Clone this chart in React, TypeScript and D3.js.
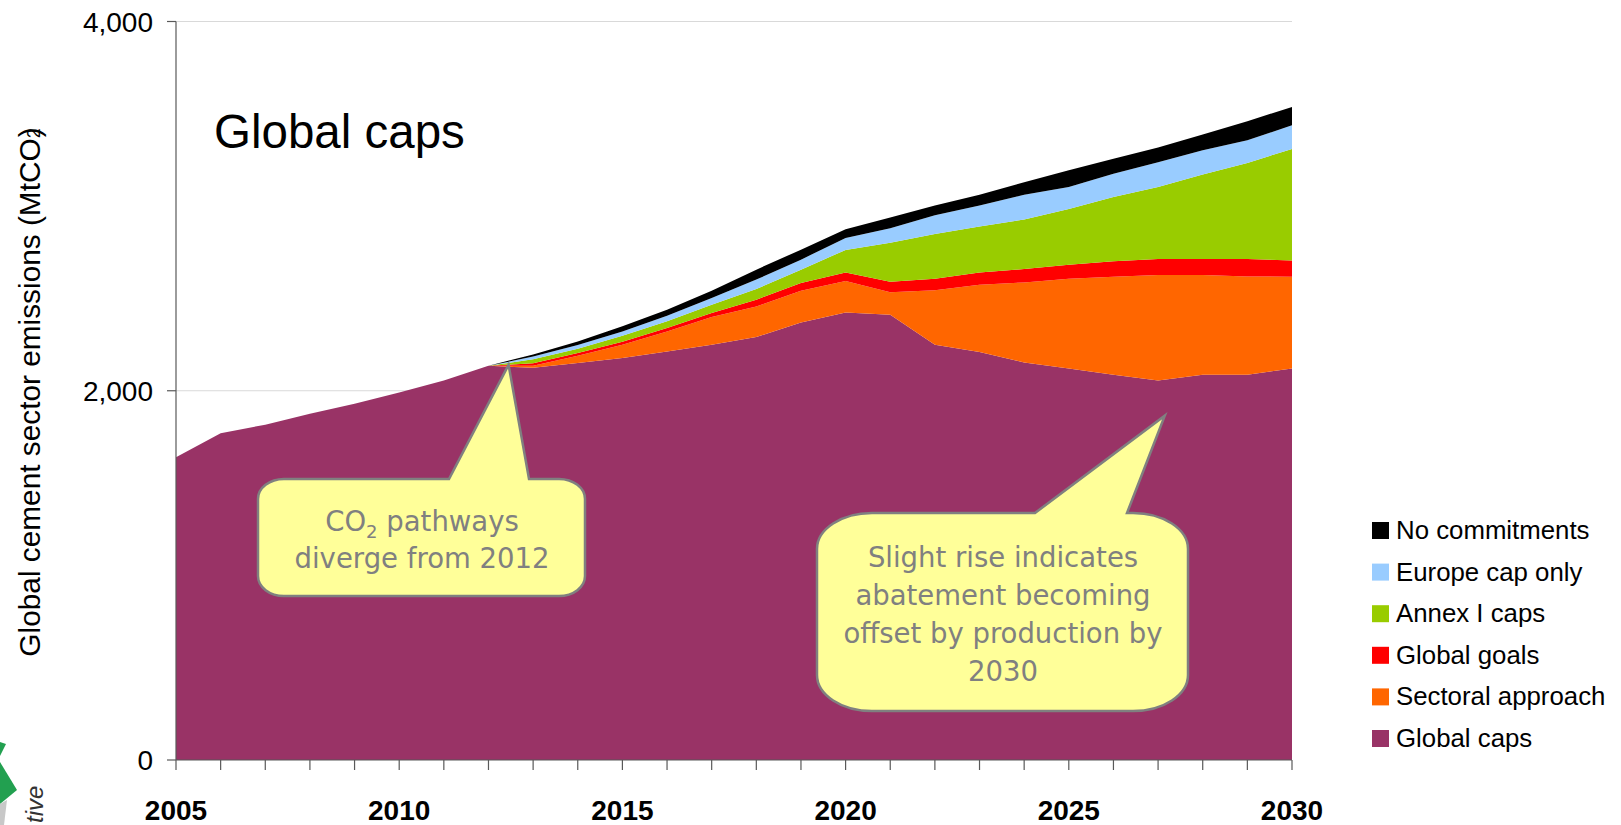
import React from "react";
import * as d3 from "d3";

const years = [2005, 2006, 2007, 2008, 2009, 2010, 2011, 2012, 2013, 2014, 2015, 2016, 2017, 2018, 2019, 2020, 2021, 2022, 2023, 2024, 2025, 2026, 2027, 2028, 2029, 2030];
const globalCaps = [1640, 1770, 1816, 1875, 1930, 1991, 2055, 2135, 2124, 2150, 2177, 2213, 2249, 2291, 2370, 2424, 2412, 2249, 2210, 2153, 2121, 2087, 2056, 2087, 2087, 2121];
const sectoralApproach = [0, 0, 0, 0, 0, 0, 0, 0, 11, 40, 72, 108, 150, 166, 172, 170, 122, 295, 364, 434, 486, 531, 571, 540, 532, 497];
const globalGoals = [0, 0, 0, 0, 0, 0, 0, 0, 14, 14, 17, 19, 22, 36, 42, 47, 56, 63, 67, 72, 76, 83, 87, 87, 95, 87];
const annexICaps = [0, 0, 0, 0, 0, 0, 0, 0, 21, 24, 32, 36, 45, 58, 72, 122, 212, 242, 249, 268, 302, 349, 390, 457, 520, 605];
const europeCapOnly = [0, 0, 0, 0, 0, 0, 0, 0, 15, 20, 23, 30, 36, 51, 54, 65, 78, 101, 113, 135, 119, 125, 133, 131, 123, 128];
const noCommitments = [0, 0, 0, 0, 0, 0, 0, 0, 12, 19, 28, 33, 40, 54, 54, 47, 58, 53, 59, 67, 90, 81, 81, 86, 103, 99];

const seriesNames = ["Global caps", "Sectoral approach", "Global goals", "Annex I caps", "Europe cap only", "No commitments"];
const seriesColors = ["#993366", "#FF6600", "#FF0000", "#99CC00", "#99CCFF", "#000000"];
const seriesValues = [globalCaps, sectoralApproach, globalGoals, annexICaps, europeCapOnly, noCommitments];
const yTicks = [0, 2000, 4000];
const xLabelYears = [2005, 2010, 2015, 2020, 2025, 2030];

const FONT = "'Liberation Sans', Arial, sans-serif";
const CALLOUT_FONT = "'DejaVu Sans', Verdana, sans-serif";

function calloutPath(x0: number, y0: number, x1: number, y1: number, rx: number, ry: number, px0: number, px1: number, tx: number, ty: number) {
  return `M${x0 + rx},${y0} L${px0},${y0} L${tx},${ty} L${px1},${y0} L${x1 - rx},${y0} A${rx},${ry} 0 0 1 ${x1},${y0 + ry} L${x1},${y1 - ry} A${rx},${ry} 0 0 1 ${x1 - rx},${y1} L${x0 + rx},${y1} A${rx},${ry} 0 0 1 ${x0},${y1 - ry} L${x0},${y0 + ry} A${rx},${ry} 0 0 1 ${x0 + rx},${y0} Z`;
}

export default function App() {
  const W = 1621, H = 825;
  const x = d3.scaleLinear().domain([2005, 2030]).range([176, 1292]);
  const y = d3.scaleLinear().domain([0, 4000]).range([760, 21.5]);

  const table = years.map((yr, i) => {
    const row: any = { year: yr };
    seriesNames.forEach((n, k) => (row[n] = seriesValues[k][i]));
    return row;
  });
  const stacked = d3.stack<any>().keys(seriesNames)(table);
  const area = d3
    .area<any>()
    .x((d) => x(d.data.year))
    .y0((d) => y(d[0]))
    .y1((d) => y(d[1]));

  const legendOrder = [...seriesNames].reverse();
  const legendColors = [...seriesColors].reverse();

  const tip1x = x(2012.45), tip1y = y(2140);
  const tip2x = x(2027.15), tip2y = y(1865);

  return (
    <svg width={W} height={H} style={{ position: "absolute", left: 0, top: 0, background: "#fff" }} xmlns="http://www.w3.org/2000/svg">
      <rect x={0} y={0} width={W} height={H} fill="#fff" />
      {yTicks.filter((t) => t > 0).map((t) => (
        <line key={t} x1={x(2005)} x2={x(2030)} y1={y(t)} y2={y(t)} stroke="#d9d9d9" strokeWidth={1} />
      ))}
      {stacked.map((s, k) => (
        <path key={s.key} d={area(s) || ""} fill={seriesColors[k]} stroke="none" />
      ))}
      <line x1={x(2005)} x2={x(2005)} y1={y(4000)} y2={y(0)} stroke="#595959" strokeWidth={1.2} />
      <line x1={x(2005)} x2={x(2030)} y1={y(0)} y2={y(0)} stroke="#595959" strokeWidth={1.2} />
      {yTicks.map((t) => (
        <g key={t}>
          <line x1={x(2005) - 9} x2={x(2005)} y1={y(t)} y2={y(t)} stroke="#595959" strokeWidth={1.2} />
          <text x={153} y={y(t) + 10} textAnchor="end" fontFamily={FONT} fontSize={28} fill="#000">
            {d3.format(",")(t)}
          </text>
        </g>
      ))}
      {years.map((yr) => (
        <line key={yr} x1={x(yr)} x2={x(yr)} y1={y(0)} y2={y(0) + 10} stroke="#595959" strokeWidth={1.2} />
      ))}
      {xLabelYears.map((yr) => (
        <text key={yr} x={x(yr)} y={820} textAnchor="middle" fontFamily={FONT} fontWeight="bold" fontSize={28} fill="#000">
          {yr}
        </text>
      ))}
      <text transform="translate(40,392) rotate(-90)" textAnchor="middle" fontFamily={FONT} fontSize={29.8} fill="#000">
        Global cement sector emissions (MtCO<tspan fontSize={18}>2</tspan><tspan dx={-9}>)</tspan>
      </text>
      <text x={214} y={148} fontFamily={FONT} fontSize={47.5} fill="#000">
        Global caps
      </text>
      <path d={calloutPath(258, 479, 585, 596, 26, 20, 449, 529, tip1x, tip1y)} fill="#FFFF99" stroke="#808080" strokeWidth={2.5} />
      <text x={422} y={531} textAnchor="middle" fontFamily={CALLOUT_FONT} fontSize={27.5} fill="#808080">
        CO<tspan fontSize={18} dy={7}>2</tspan><tspan dy={-7}> pathways</tspan>
      </text>
      <text x={422} y={568} textAnchor="middle" fontFamily={CALLOUT_FONT} fontSize={27.5} fill="#808080">
        diverge from 2012
      </text>
      <path d={calloutPath(817, 513, 1188, 711, 55, 36, 1035, 1127, tip2x, tip2y)} fill="#FFFF99" stroke="#808080" strokeWidth={2.5} />
      {["Slight rise indicates", "abatement becoming", "offset by production by", "2030"].map((line, i) => (
        <text key={i} x={1003} y={566.5 + i * 38.3} textAnchor="middle" fontFamily={CALLOUT_FONT} fontSize={27.5} fill="#808080">
          {line}
        </text>
      ))}
      {legendOrder.map((n, i) => (
        <g key={n} transform={`translate(1372, ${530 + i * 41.6})`}>
          <rect x={0} y={-8} width={17} height={17} fill={legendColors[i]} />
          <text x={24} y={9} fontFamily={FONT} fontSize={25.8} fill="#000">
            {n}
          </text>
        </g>
      ))}
      <polygon points="0,742 6,744 0,756" fill="#22a050" />
      <polygon points="0,762 17,790 0,804" fill="#22a050" />
      <polygon points="0,804 7,800 4,825 0,825" fill="#c8c8c8" />
      <text transform="translate(43,823) rotate(-90)" fontFamily={FONT} fontStyle="italic" fontSize={24} fill="#333">
        tive
      </text>
    </svg>
  );
}
